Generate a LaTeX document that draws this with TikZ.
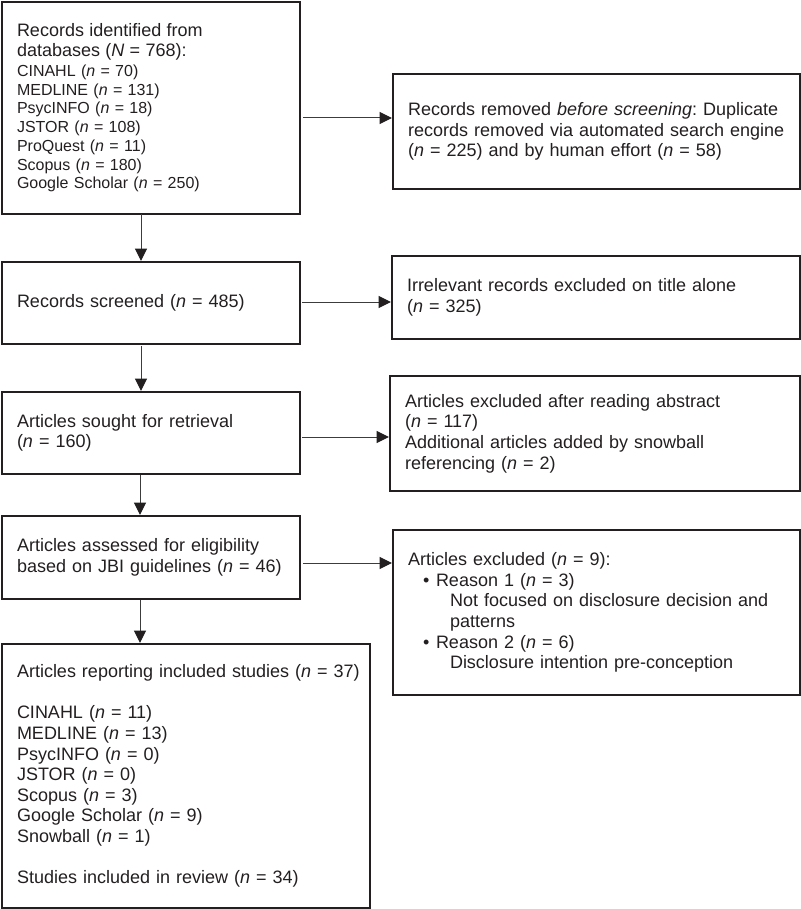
\documentclass[tikz,border=0pt]{standalone}
\usepackage{fontspec}
\setmainfont{Liberation Sans}
\usetikzlibrary{arrows.meta}
\definecolor{ink}{HTML}{231F20}
\definecolor{wire}{HTML}{3C3C3C}
\frenchspacing
\begin{document}
\begin{tikzpicture}[x=1pt,y=-1pt,
  box/.style={draw=ink, line width=2pt, rectangle, anchor=north west,
    inner xsep=15pt, inner ysep=0pt, align=left, text=ink,
    font=\fontsize{18}{20.6}\selectfont\frenchspacing},
  arr/.style={draw=wire, line width=1pt, -{Triangle[length=12.5pt,width=12pt,fill=ink,color=ink]}}]
\useasboundingbox (0,0) rectangle (800,909);

\node[box, text width=268pt, minimum height=212pt,
  font=\fontsize{16}{18.75}\selectfont\frenchspacing] (b1) at (1,1)
  {{\fontsize{18}{20}\selectfont Records identified from}\\[1.2pt]
   {\fontsize{18}{20}\selectfont databases (\textit{N} = 768):}\\[1pt]
   CINAHL (\textit{n} = 70)\\
   MEDLINE (\textit{n} = 131)\\
   PsycINFO (\textit{n} = 18)\\
   JSTOR (\textit{n} = 108)\\
   ProQuest (\textit{n} = 11)\\
   Scopus (\textit{n} = 180)\\
   Google Scholar (\textit{n} = 250)};

\node[box, text width=377pt, minimum height=115pt] (b2) at (392,73)
  {Records removed \textit{before screening}: Duplicate\\
   records removed via automated search engine\\
   (\textit{n} = 225) and by human effort (\textit{n} = 58)};

\node[box, text width=268pt, minimum height=82pt] (b3) at (1,261)
  {Records screened (\textit{n} = 485)};

\node[box, text width=378pt, minimum height=83pt] (b4) at (391,255)
  {Irrelevant records excluded on title alone\\
   (\textit{n} = 325)};

\node[box, text width=268pt, minimum height=82pt] (b5) at (1,391)
  {Articles sought for retrieval\\
   (\textit{n} = 160)};

\node[box, text width=380pt, minimum height=115pt] (b6) at (389,375)
  {Articles excluded after reading abstract\\
   (\textit{n} = 117)\\
   Additional articles added by snowball\\
   referencing (\textit{n} = 2)};

\node[box, text width=268pt, minimum height=83pt] (b7) at (1,515)
  {Articles assessed for eligibility\\
   based on JBI guidelines (\textit{n} = 46)};

\node[box, text width=377pt, minimum height=165pt] (b8) at (392,529)
  {Articles excluded (\textit{n} = 9):\\
   \hspace*{15pt}\makebox[13pt][l]{•}Reason 1 (\textit{n} = 3)\\
   \hspace*{42pt}Not focused on disclosure decision and\\
   \hspace*{42pt}patterns\\
   \hspace*{15pt}\makebox[13pt][l]{•}Reason 2 (\textit{n} = 6)\\
   \hspace*{42pt}Disclosure intention pre-conception};

\node[box, text width=338pt, minimum height=264pt] (b9) at (1,643)
  {\mbox{Articles reporting included studies (\textit{n} = 37)}\\[20.6pt]
   CINAHL (\textit{n} = 11)\\
   MEDLINE (\textit{n} = 13)\\
   PsycINFO (\textit{n} = 0)\\
   JSTOR (\textit{n} = 0)\\
   Scopus (\textit{n} = 3)\\
   Google Scholar (\textit{n} = 9)\\
   Snowball (\textit{n} = 1)\\[20.6pt]
   Studies included in review (\textit{n} = 34)};

% vertical connectors
\coordinate (v1) at (141,214);
\coordinate (v2) at (141,346);
\coordinate (v3) at (140,475);
\coordinate (v4) at (140,600);
\draw[arr] (v1) -- (v1 |- b3.north);
\draw[arr] (v2) -- (v2 |- b5.north);
\draw[arr] (v3) -- (v3 |- b7.north);
\draw[arr] (v4) -- (v4 |- b9.north);

% horizontal connectors
\coordinate (h1) at (303,118);
\coordinate (h2) at (302,302);
\coordinate (h3) at (302,437);
\coordinate (h4) at (303,563);
\draw[arr] (h1) -- (h1 -| b2.west);
\draw[arr] (h2) -- (h2 -| b4.west);
\draw[arr] (h3) -- (h3 -| b6.west);
\draw[arr] (h4) -- (h4 -| b8.west);
\end{tikzpicture}
\end{document}
